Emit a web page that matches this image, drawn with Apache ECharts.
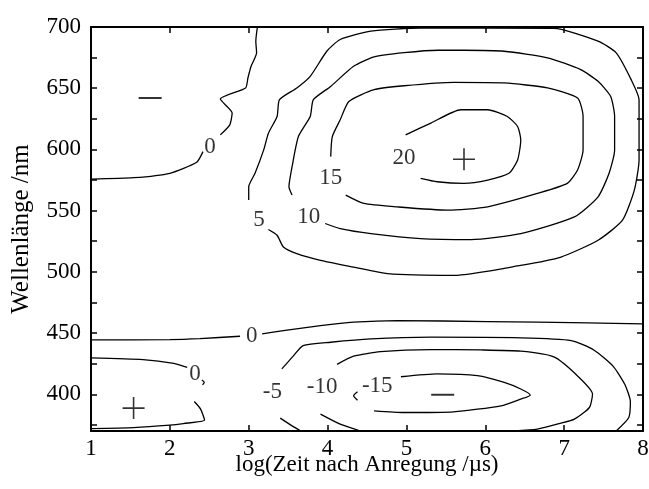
<!DOCTYPE html>
<html>
<head>
<meta charset="utf-8">
<script src="https://cdn.jsdelivr.net/npm/echarts@6/dist/echarts.min.js"></script>
<style>
html, body { margin: 0; padding: 0; background: #fff; }
#chart { width: 649px; height: 489px; }
</style>
</head>
<body>
<div id="chart"></div>
<script>
// axes
var xRange = [1, 8];
var yRange = [370, 700];

// contour lines, points are [log(t), wavelength]
var c0Top1 = [[1.0,575.8],[1.54,576.9],[2.0,580.5],[2.34,589.5],[2.42,598.2]];
var c0Top2 = [[2.64,611.9],[2.76,620.1],[2.79,629.7],[2.64,641.1],[2.96,650.2],[2.99,658.4],[3.03,667.9],[3.10,678.9],[3.09,688.4],[3.11,700]];
var c5 = [[3.25,534.6],[3.36,529.9],[3.44,520.3],[3.61,514.9],[3.91,509.4],[4.33,503.9],[4.76,498.5],[5.60,497.1],[6.45,505.3],[6.96,512.1],[7.43,525.8],[7.74,542.2],[7.89,566.8],[7.95,591.4],[7.95,640.6],[7.85,657],[7.66,678.9],[7.43,688.4],[6.87,698.8],[5.18,699.2],[4.55,696.6],[4.16,689.8],[3.99,680.2],[3.78,659.7],[3.61,650.2],[3.39,640.6],[3.36,626.9],[3.25,613.3],[3.19,599.6],[3.08,580.5],[3.0,569.5],[3.0,558.6]];
var c10 = [[3.97,539.5],[4.16,535.4],[4.55,531.3],[5.18,527.2],[5.82,526.4],[6.45,531.3],[7.13,544.9],[7.43,561.3],[7.57,580.5],[7.64,599.6],[7.64,626.9],[7.59,643.3],[7.43,655.6],[7.21,665.2],[6.79,674.8],[6.24,680.2],[5.73,681],[5.4,681],[4.97,679],[4.59,675.5],[4.33,667.9],[4.04,651.5],[3.82,640.6],[3.78,626.9],[3.63,610.5],[3.55,585.9],[3.51,569.5],[3.55,562.7]];
var c15 = [[4.23,562.7],[4.46,555.9],[4.88,553.1],[5.52,550.4],[6.03,553.1],[6.66,564.1],[7.04,572.3],[7.17,583.2],[7.24,599.6],[7.24,626.9],[7.17,642],[6.79,650.2],[6.24,654.3],[5.60,654.8],[4.97,652],[4.59,648.8],[4.27,639.2],[4.16,624.2],[4.06,610.5],[4.04,594.1]];
var c20 = [[5.18,576.4],[5.39,573.6],[5.73,572.3],[6.03,575],[6.30,580.5],[6.41,591.4],[6.45,607.8],[6.41,618.7],[6.28,626.9],[6.03,632.4],[5.69,632.4],[5.31,621.5],[4.99,611.9]];
var c0Mid1 = [[1.0,444.4],[2.0,444.7],[2.38,445.5],[2.89,447.4]];
var c0Mid2 = [[3.17,449.3],[3.44,452],[3.91,456.1],[4.33,458.9],[4.88,460.2],[6.03,459.4],[7.3,458.4],[8.0,457.5]];
var c0Low1 = [[1.0,429.7],[1.66,428.3],[2.05,425.2],[2.22,421.9]];
var c0Low2 = [[2.407,411.6],[2.436,409.6],[2.415,407.7]];
var c0Low3 = [[2.31,394.1],[2.39,387.9],[2.44,378.9],[2.17,376.1],[2.0,374.8],[1.54,372.8],[1.0,372]];
var cm5a = [[3.42,420.7],[3.57,431.6],[3.69,439.8],[4.04,442.5],[4.55,445.2],[5.31,446.6],[6.45,446.1],[7.09,443.9],[7.38,436],[7.62,423],[7.77,408],[7.84,394],[7.82,381],[7.66,370]];
var cm5b = [[3.40,380.5],[3.55,374.2],[3.66,370]];
var cm10a = [[4.12,424.4],[4.33,431.1],[4.67,434.8],[5.31,436.5],[5.94,436.2],[6.45,435.2],[6.87,430.5],[7.17,415],[7.36,400.2],[7.32,389.2],[7.13,379.7],[6.96,376.4],[6.66,371.5],[6.36,370]];
var cm10b = [[3.91,383.8],[4.16,375.6],[4.42,370]];
var cm15 = [[4.59,386.5],[4.97,385.1],[5.60,385.7],[6.20,390.6],[6.45,396.1],[6.57,399.3],[6.45,404.3],[6.24,409.7],[5.90,415.2],[5.39,416.6],[4.93,414.3]];
var cm15hook = [[4.38,402],[4.33,398.8],[4.38,395.1]];

var contourLines = [c0Top1, c0Top2, c5, c10, c15, c20, c0Mid1, c0Mid2, c0Low1, c0Low2, c0Low3,
  cm5a, cm5b, cm10a, cm10b, cm15, cm15hook];

// contour level labels [x, y, text]
var levelLabels = [
  [2.51, 602.3, '0'], [3.13, 542.2, '5'], [3.76, 544.9, '10'], [4.04, 576.4, '15'],
  [4.97, 592.8, '20'], [3.04, 447.4, '0'], [2.32, 416.6, '0'],
  [3.30, 401.5, '-5'], [3.93, 405.6, '-10'], [4.63, 407, '-15']
];
// sign markers
var plusMarks = [[5.73, 592], [1.54, 388.7]];
var minusMarks = [[1.75, 642], [5.46, 399.6]];

var font = 'Liberation Serif';
var chart = echarts.init(document.getElementById('chart'));

var series = contourLines.map(function (pts) {
  return {
    type: 'line',
    data: pts,
    showSymbol: false,
    smooth: 0.2,
    silent: true,
    lineStyle: { color: '#000', width: 1.3 }
  };
});

series.push({
  type: 'scatter',
  data: levelLabels.map(function (d) { return { value: [d[0], d[1]], name: d[2] }; }),
  symbolSize: 1,
  itemStyle: { color: 'rgba(0,0,0,0)' },
  label: {
    show: true, position: 'inside', formatter: '{b}',
    fontFamily: font, fontSize: 23, color: '#000'
  }
});
series.push({
  type: 'scatter',
  data: plusMarks,
  symbol: 'path://M0,10.2h22v1.6h-22zM10.2,0h1.6v22h-1.6z',
  symbolSize: [22, 22],
  itemStyle: { color: '#000' }
});
series.push({
  type: 'scatter',
  data: minusMarks,
  symbol: 'rect',
  symbolSize: [23, 2],
  itemStyle: { color: '#000' }
});

var axisLabelStyle = { fontFamily: font, fontSize: 23, color: '#000' };
var tickStyle = { inside: true, length: 6, lineStyle: { color: '#000', width: 1.5 } };
var minorStyle = { show: true, splitNumber: 2, length: 6, lineStyle: { color: '#000', width: 1.5 } };

option = {
  animation: false,
  backgroundColor: '#fff',
  grid: { left: 91, right: 6, top: 27, bottom: 58, containLabel: false, outerBoundsMode: 'none' },
  xAxis: [
    {
      type: 'value', min: xRange[0], max: xRange[1], interval: 1,
      name: 'log(Zeit nach Anregung /\u00b5s)', nameLocation: 'middle', nameGap: 22,
      nameMoveOverlap: false,
      nameTextStyle: { fontFamily: font, fontSize: 23, color: '#000' },
      axisLine: { lineStyle: { color: '#000', width: 2 } },
      axisTick: tickStyle,
      axisLabel: Object.assign({ margin: 6 }, axisLabelStyle),
      splitLine: { show: false }
    },
    {
      type: 'value', position: 'top', min: xRange[0], max: xRange[1], interval: 1,
      axisLine: { lineStyle: { color: '#000', width: 2 } },
      axisTick: tickStyle,
      axisLabel: { show: false },
      splitLine: { show: false }
    }
  ],
  yAxis: [
    {
      type: 'value', min: yRange[0], max: yRange[1],
      name: 'Wellenl\u00e4nge /nm', nameLocation: 'middle', nameGap: 57,
      nameTextStyle: { fontFamily: font, fontSize: 25, color: '#000' },
      axisLine: { show: true, lineStyle: { color: '#000', width: 2 } },
      axisTick: tickStyle,
      minorTick: minorStyle,
      axisLabel: Object.assign({
        margin: 10,
        formatter: function (v) { return v % 50 === 0 ? String(v) : ''; }
      }, axisLabelStyle),
      splitLine: { show: false }
    },
    {
      type: 'value', position: 'right', min: yRange[0], max: yRange[1],
      axisLine: { show: true, lineStyle: { color: '#000', width: 2 } },
      axisTick: tickStyle,
      minorTick: minorStyle,
      axisLabel: { show: false },
      splitLine: { show: false }
    }
  ],
  series: series
};

chart.setOption(option);
</script>
</body>
</html>
